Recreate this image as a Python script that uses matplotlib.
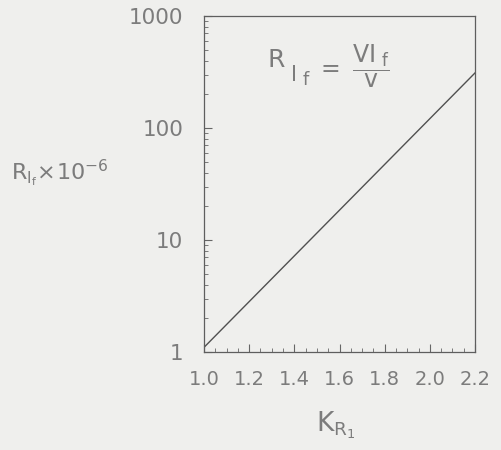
import numpy as np
import matplotlib
matplotlib.use("Agg")
import matplotlib.pyplot as plt
from matplotlib.ticker import FixedLocator, LogLocator, NullFormatter

plt.rcParams['font.family'] = ['DejaVu Sans']
plt.rcParams['mathtext.fontset'] = 'dejavusans'

# datos
k_r1 = [1.0, 2.2]
r_if = [1.1, 310.0]
xticks = [1.0, 1.2, 1.4, 1.6, 1.8, 2.0, 2.2]
xlabels = ["1.0", "1.2", "1.4", "1.6", "1.8", "2.0", "2.2"]
yticks = [1, 10, 100, 1000]
ylabels = ["1", "10", "100", "1000"]

gris = "#7c7c7c"
fondo = "#efefed"

fig = plt.figure(figsize=(5.01, 4.5), dpi=100, facecolor=fondo)
ax = fig.add_axes([0.4072, 0.2178, 0.5409, 0.7467])
ax.set_facecolor(fondo)

ax.plot(k_r1, r_if, color="#505050", lw=1.0)
ax.set_yscale("log")
ax.set_xlim(1.0, 2.2)
ax.set_ylim(1, 1000)

ax.set_xticks(xticks)
ax.set_xticklabels(xlabels)
ax.xaxis.set_minor_locator(FixedLocator(np.arange(1.0, 2.21, 0.05)))
ax.set_yticks(yticks)
ax.set_yticklabels(ylabels)
ax.yaxis.set_minor_locator(LogLocator(base=10, subs=np.arange(2, 10)))
ax.yaxis.set_minor_formatter(NullFormatter())

ax.tick_params(axis="both", which="major", direction="in", length=6, width=0.8,
               color="#666666", labelcolor=gris)
ax.tick_params(axis="both", which="minor", direction="in", length=3, width=0.6, color="#666666")
ax.tick_params(axis="x", labelsize=14, pad=13)
ax.tick_params(axis="y", labelsize=15.5, pad=15)
for s in ax.spines.values():
    s.set_color("#5e5e5e")
    s.set_linewidth(0.9)

fig.text(0.022, 0.615, r"$\mathrm{R}_{\mathrm{I}_{\mathrm{f}}}\!\times\!10^{-6}$",
         color=gris, fontsize=16, ha="left", va="center")
fig.text(0.67, 0.055, r"$\mathrm{K}_{\mathrm{R}_{1}}$", color=gris, fontsize=19,
         ha="center", va="center")

# formula dentro del grafico
fig.text(268 / 501, 1 - 60 / 450, "R", color=gris, fontsize=18, ha="left", va="center")
fig.text(291 / 501, 1 - 75 / 450, "I", color=gris, fontsize=15, ha="left", va="center")
fig.text(303 / 501, 1 - 80 / 450, "f", color=gris, fontsize=13, ha="left", va="center")
fig.text(316 / 501, 1 - 66 / 450, r"$=\ \dfrac{\mathrm{VI}_{\ \mathrm{f}}}{\ \mathrm{v}\ }$",
         color=gris, fontsize=17, ha="left", va="center")

plt.savefig("out.png", dpi=100, facecolor=fondo)
plt.close()
